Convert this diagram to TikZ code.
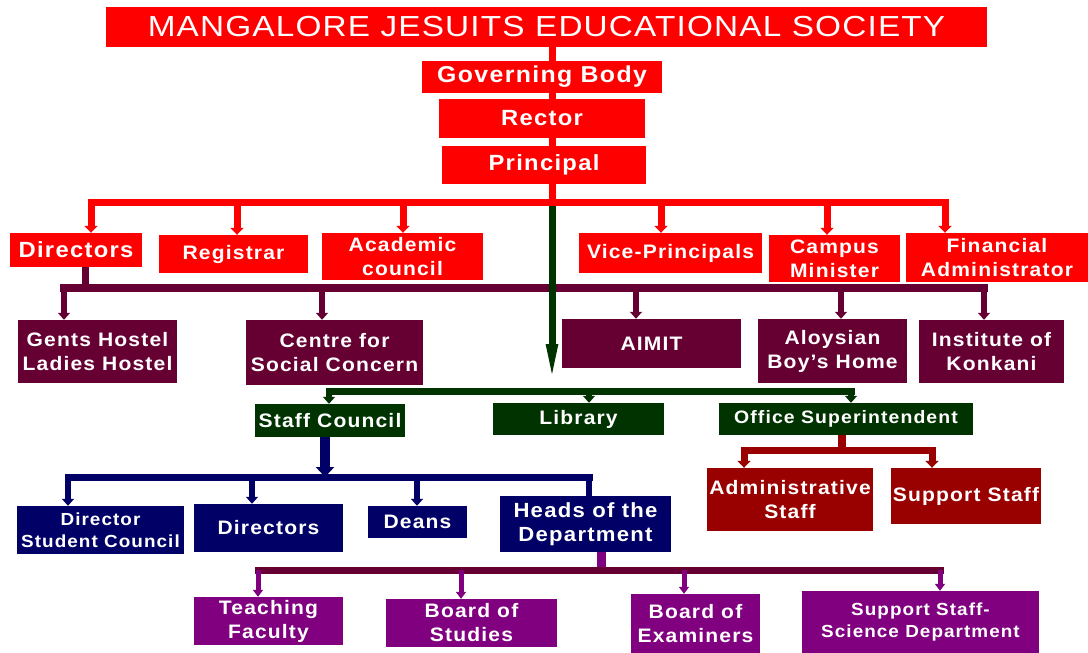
\documentclass[tikz,border=0pt]{standalone}
\usepackage{fontspec}
\setmainfont{Liberation Sans}[FakeStretch=1.08, LetterSpace=6]
\newfontfamily\ttlfont{Liberation Sans}[FakeStretch=1.15, LetterSpace=4]
\usetikzlibrary{
    arrows.meta,
    calc,
    positioning
}

\definecolor{mjred}{HTML}{FF0000}
\definecolor{mjmaroon}{HTML}{660033}
\definecolor{mjgreen}{HTML}{003300}
\definecolor{mjnavy}{HTML}{000066}
\definecolor{mjdkred}{HTML}{990000}
\definecolor{mjpurple}{HTML}{800080}

\newcommand{\mjfs}[2][24]{\fontsize{#2}{#1}\selectfont}

\tikzset{
    box/.style={fill=#1, text=white, inner sep=0pt, align=center, font=\bfseries\mjfs{19.5}},
    sz/.style 2 args={minimum width=#1, minimum height=#2},
    bar/.style={draw=#1, line width=7pt, line cap=rect},
    trunk/.style={draw=#1, line width=7pt},
    arr/.style={draw=#1, line width=6pt, -{Triangle[width=12pt, length=7pt]}}
}

\begin{document}
\begin{tikzpicture}[x=1pt, y=-1pt]
    \useasboundingbox (0, 0) rectangle (1088, 653);

    \node[box=mjred, font=\ttlfont\mjfs{29}, sz={881}{40}] (ttl) at (546.5, 27) {MANGALORE JESUITS EDUCATIONAL SOCIETY};
    \node[box=mjred, font=\bfseries\mjfs{23}, sz={240}{32}] (gov) at (542, 77) {Governing Body};
    \node[box=mjred, font=\bfseries\mjfs{22}, sz={206}{39}] (rec) at (542, 118.5) {Rector};
    \node[box=mjred, font=\bfseries\mjfs{22}, sz={204}{38}] (pri) at (544, 165) {Principal};

    \node[box=mjred, font=\bfseries\mjfs{22}, sz={132}{34}] (dir) at (76, 250) {Directors};
    \node[box=mjred, sz={149}{38}] (reg) at (233.5, 254) {Registrar};
    \node[box=mjred, sz={161}{47}] (aca) at (402.5, 256.5) {Academic\\council};
    \node[box=mjred, sz={183}{40}] (vp) at (670.5, 253) {Vice-Principals};
    \node[box=mjred, sz={131}{47}] (cm) at (834.5, 258.5) {Campus\\Minister};
    \node[box=mjred, sz={182}{49}] (fa) at (997, 257.5) {Financial\\Administrator};

    \node[box=mjmaroon, sz={159}{63}] (gh) at (97.5, 351.5) {Gents Hostel\\Ladies Hostel};
    \node[box=mjmaroon, sz={177}{65}] (csc) at (334.5, 352.5) {Centre for\\Social Concern};
    \node[box=mjmaroon, sz={179}{49}] (aimit) at (651.5, 343.5) {AIMIT};
    \node[box=mjmaroon, sz={149}{64}] (abh) at (832.5, 351) {Aloysian\\Boy's Home};
    \node[box=mjmaroon, sz={145}{63}] (ik) at (991.5, 351.5) {Institute of\\Konkani};

    \node[box=mjgreen, sz={150}{33}] (sc) at (330, 420.5) {Staff Council};
    \node[box=mjgreen, sz={171}{32}] (lib) at (578.5, 419) {Library};
    \node[box=mjgreen, font=\bfseries\mjfs{18}, sz={254}{32}] (os) at (846, 419) {Office Superintendent};

    \node[box=mjnavy, font={\bfseries\mjfs[22]{17.5}}, sz={167}{48}] (dsc) at (100.5, 530) {Director\\Student Council};
    \node[box=mjnavy, sz={149}{48}] (dirs) at (268.5, 528) {Directors};
    \node[box=mjnavy, sz={99}{32}] (deans) at (417.5, 522) {Deans};
    \node[box=mjnavy, font=\bfseries\mjfs{20.5}, sz={171}{56}] (hod) at (585.5, 524) {Heads of the\\Department};

    \node[box=mjdkred, sz={166}{63}] (as) at (790, 499.5) {Administrative\\Staff};
    \node[box=mjdkred, sz={150}{56}] (ss) at (966, 496) {Support Staff};

    \node[box=mjpurple, sz={149}{48}] (tf) at (268.5, 621) {Teaching\\Faculty};
    \node[box=mjpurple, sz={171}{48}] (bs) at (471.5, 623) {Board of\\Studies};
    \node[box=mjpurple, sz={129}{59}] (be) at (695.5, 623.5) {Board of\\Examiners};
    \node[box=mjpurple, font={\bfseries\mjfs[22]{17.5}}, sz={237}{62}] (sss) at (920.5, 622) {Support Staff-\\Science Department};

    \coordinate (rt) at (552, 202);
    \coordinate (m0) at (85, 288);
    \coordinate (g0) at (552, 206);
    \coordinate (gt) at (552, 389);
    \coordinate (n0) at (325, 477);
    \coordinate (d0) at (842, 450);
    \coordinate (p0) at (601, 570);
    \foreach \i/\x in {1/91, 2/237, 3/403, 4/661, 5/827, 6/945}
        \coordinate (r\i) at (\x, 202);
    \foreach \i/\x in {1/64, 2/322, 3/636, 4/841, 5/984}
        \coordinate (m\i) at (\x, 288);
    \foreach \i/\x in {1/329, 2/589, 3/851}
        \coordinate (g\i) at (\x, 391);
    \foreach \i/\x in {1/68, 2/252, 3/417, 4/589}
        \coordinate (n\i) at (\x, 477);
    \foreach \i/\x in {1/744, 2/932}
        \coordinate (d\i) at (\x, 450);
    \foreach \i/\x in {1/258, 2/461, 3/684, 4/940}
        \coordinate (p\i) at (\x, 570);

    \draw[trunk=mjred]
    (ttl.south -| rt) -- (gov.north -| rt)
    (gov.south -| rt) -- (rec.north -| rt)
    (rec.south -| rt) -- (pri.north -| rt)
    (pri.south -| rt) -- (rt);
    \draw[bar=mjred] (r1) -- (r6);
    \foreach \c/\b in {r1/dir, r2/reg, r3/aca, r4/vp, r5/cm, r6/fa}
        \draw[arr=mjred, line width=7pt, -{Triangle[width=13pt, length=7pt]}] (\c) -- (\c |- \b.north);

    \draw[trunk=mjmaroon] (dir.south -| m0) -- (m0);
    \draw[bar=mjmaroon, line width=8pt] (m1) -- (m5);
    \foreach \c/\b in {m1/gh, m2/csc, m3/aimit, m4/abh, m5/ik}
        \draw[arr=mjmaroon] (\c) -- (\c |- \b.north);

    \draw[trunk=mjgreen, -{Triangle[width=10pt, length=45pt]}] (g0) -- (gt);
    \draw[bar=mjgreen] (g1) -- (g3);
    \foreach \c/\b in {g1/sc, g2/lib, g3/os}
        \draw[arr=mjgreen] (\c) -- (\c |- \b.north);

    \draw[trunk=mjnavy, line width=10pt, -{Triangle[width=18pt, length=10pt]}] (sc.south -| n0) -- (n0);
    \draw[bar=mjnavy] (n1) -- (n4);
    \foreach \c/\b in {n1/dsc, n2/dirs, n3/deans}
        \draw[arr=mjnavy] (\c) -- (\c |- \b.north);
    \draw[trunk=mjnavy, line width=6pt] (n4) -- (n4 |- hod.north);

    \draw[trunk=mjdkred, line width=8pt] (os.south -| d0) -- (d0);
    \draw[bar=mjdkred] (d1) -- (d2);
    \foreach \c/\b in {d1/as, d2/ss}
        \draw[arr=mjdkred, line width=7pt, -{Triangle[width=13pt, length=7pt]}] (\c) -- (\c |- \b.north);

    \draw[trunk=mjpurple, line width=9pt] (hod.south -| p0) -- (p0);
    \draw[bar=mjmaroon] (p1) -- (p4);
    \foreach \c/\b in {p1/tf, p2/bs, p3/be, p4/sss}
        \draw[arr=mjpurple, line width=5pt, -{Triangle[width=10pt, length=7pt]}] (\c) -- (\c |- \b.north);
\end{tikzpicture}
\end{document}
